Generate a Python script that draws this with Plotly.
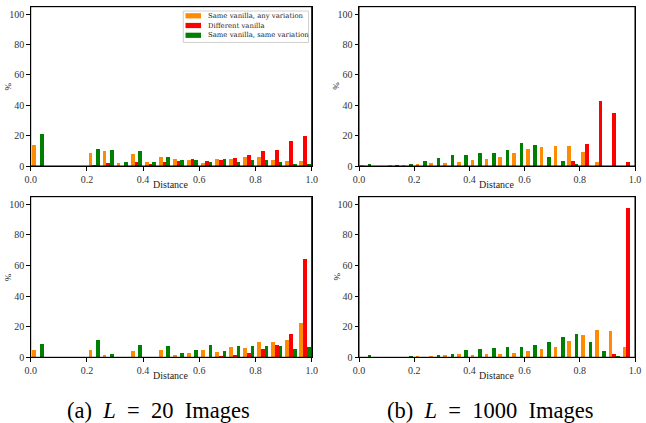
import plotly.graph_objects as go

bin_edges = [round(i * 0.05, 2) for i in range(21)]
series_names = ["Same vanilla, any variation", "Different vanilla", "Same vanilla, same variation"]
series_colors = ["darkorange", "red", "green"]
x_ticks = [0, 0.2, 0.4, 0.6, 0.8, 1.0]
x_tick_labels = ["0.0", "0.2", "0.4", "0.6", "0.8", "1.0"]
y_ticks = [0, 20, 40, 60, 80, 100]
captions = ["(a)&nbsp;&nbsp;<i>L</i>&nbsp;&nbsp;=&nbsp;&nbsp;20&nbsp; Images",
            "(b)&nbsp;&nbsp;<i>L</i>&nbsp;&nbsp;=&nbsp;&nbsp;1000&nbsp; Images"]

# (a) L = 20, top
a_top_orange = [14, 0, 0, 0, 9, 10, 2.2, 8, 2.9, 6.2, 4.8, 4.2, 2.2, 4.8, 4.8, 6.2, 6.2, 4.2, 3.5, 3.5]
a_top_red    = [0, 0.2, 0.2, 0.2, 1, 2.3, 0, 2.9, 1.5, 2.9, 3.5, 4.8, 3.5, 4.2, 5.5, 7.5, 10.1, 10.8, 16.8, 20]
a_top_green  = [21.5, 0, 0, 0, 11.5, 10.8, 2.9, 10, 2.9, 6.2, 4.2, 4.2, 2.9, 4.8, 2.9, 4.2, 4.2, 2.9, 1.5, 1.5]
# (b) L = 1000, top
b_top_orange = [0.8, 0, 0.8, 0.8, 1.5, 2.2, 2.2, 2.9, 4.2, 4.8, 6.2, 8.8, 11.4, 12.8, 13.4, 13.4, 9.5, 2.9, 0, 0]
b_top_red    = [0, 0.2, 0, 0, 0, 0, 0, 0, 0, 0, 0, 0, 0, 0, 0, 3.5, 14.8, 43, 35, 2.9]
b_top_green  = [1.5, 0, 0.8, 1.5, 3.5, 5.5, 7.5, 7.5, 8.8, 8.8, 10.8, 15.4, 14, 6.2, 3.5, 1.5, 0, 0, 0, 0]
# (a) L = 20, bottom
a_bot_orange = [4.8, 0, 0, 0, 4.8, 1.5, 0, 4.2, 0, 4.8, 1.5, 2.9, 4.8, 3.5, 6.8, 6.2, 10.1, 10.1, 11.4, 22.5]
a_bot_red    = [0, 0, 0, 0, 0, 0, 0, 0, 0, 0, 0, 0, 0, 0.8, 1.5, 2.9, 5.5, 8.1, 15.4, 64.7]
a_bot_green  = [8.8, 0, 0, 0, 11.4, 2.2, 0, 8.1, 0, 7.5, 2.9, 4.8, 8.1, 4.2, 7.5, 7.5, 7.5, 7.5, 5.5, 6.8]
# (b) L = 1000, bottom
b_bot_orange = [0, 0, 0, 0, 0.8, 0.8, 1.5, 2.2, 1.5, 2.2, 2.2, 2.9, 4.2, 5.5, 6.8, 10.8, 14.8, 18, 17.4, 6.8]
b_bot_red    = [0, 0, 0, 0, 0, 0, 0, 0, 0, 0, 0, 0, 0, 0, 0, 0, 0, 0, 2.2, 97.5]
b_bot_green  = [1.5, 0, 0, 0.8, 0, 1.5, 2.2, 4.8, 5.5, 6.2, 6.8, 6.8, 8.1, 10.1, 13.4, 15.4, 10.1, 4.2, 0.8, 0]

panels = [
    (0, 0, [a_top_orange, a_top_red, a_top_green]),
    (0, 1, [b_top_orange, b_top_red, b_top_green]),
    (1, 0, [a_bot_orange, a_bot_red, a_bot_green]),
    (1, 1, [b_bot_orange, b_bot_red, b_bot_green]),
]

W, H = 646, 423
fig = go.Figure()

# axes boxes in pixels
x_doms = [(30.7, 311.7), (359.0, 635.0)]
y_doms = [(6.7, 166.0), (196.7, 357.3)]

def px(xp):
    return xp / W

def py(yp):
    return 1 - yp / H

binw = bin_edges[1] - bin_edges[0]
dr = 0.8
bw = dr * binw / 3
boff = 0.5 * (1 - dr) * binw

font_family = "Liberation Serif, DejaVu Serif, serif"
legend_family = "DejaVu Serif, Liberation Serif, serif"
tick_font = dict(family=font_family, size=10, color="#333")
label_font = dict(family=font_family, size=10, color="#222")

for idx, (r, c, data) in enumerate(panels, start=1):
    xa = "x" if idx == 1 else f"x{idx}"
    ya = "y" if idx == 1 else f"y{idx}"
    for k, vals in enumerate(data):
        xs = [bin_edges[i] + boff + bw * k + bw / 2 for i in range(len(vals))]
        fig.add_trace(go.Bar(
            x=xs, y=vals, width=bw, marker=dict(color=series_colors[k], line=dict(width=0)),
            name=series_names[k], showlegend=False, xaxis=xa, yaxis=ya,
        ))
    axis_common = dict(
        showgrid=False, zeroline=False, showline=True, linecolor="black", linewidth=1,
        mirror=True, ticks="outside", ticklen=3.5, tickwidth=0.8, tickcolor="black",
        tickfont=tick_font, automargin=False, ticklabeloverflow="allow",
    )
    xkey = "xaxis" if idx == 1 else f"xaxis{idx}"
    ykey = "yaxis" if idx == 1 else f"yaxis{idx}"
    xd, yd = x_doms[c], y_doms[r]
    fig.update_layout({
        xkey: dict(axis_common, domain=[px(xd[0]), px(xd[1])], range=[0, 1], anchor=ya,
                   tickvals=x_ticks, ticktext=x_tick_labels),
        ykey: dict(axis_common, domain=[py(yd[1]), py(yd[0])], range=[0, 105], anchor=xa,
                   tickvals=y_ticks),
    })
    # explicit frame so every spine is drawn
    fig.add_shape(type="rect", xref=f"{xa} domain", yref=f"{ya} domain", x0=0, x1=1, y0=0, y1=1,
                  line=dict(color="black", width=1), fillcolor="rgba(0,0,0,0)", layer="above")
    # axis titles
    fig.add_annotation(text="Distance", x=px((xd[0] + xd[1]) / 2), y=py(yd[1] + 18.3),
                       xref="paper", yref="paper", showarrow=False, xanchor="center", yanchor="middle",
                       font=label_font)
    fig.add_annotation(text="%", x=px(xd[0] - 22.5), y=py((yd[0] + yd[1]) / 2),
                       xref="paper", yref="paper", showarrow=False, xanchor="center", yanchor="middle",
                       textangle=-90, font=dict(family=font_family, size=9, color="#222"))

# captions
for c, cap in enumerate(captions):
    fig.add_annotation(text=cap, x=px([65.0, 385.0][c]), y=py(410.5), xref="paper", yref="paper",
                       showarrow=False, xanchor="left", yanchor="middle",
                       font=dict(family=font_family, size=22.5, color="black"))

# manual compact legend in first panel
leg_x0, leg_x1, leg_y0, leg_y1 = 183.3, 308.5, 11.0, 42.5
fig.add_shape(type="rect", xref="paper", yref="paper",
              x0=px(leg_x0), x1=px(leg_x1), y0=py(leg_y1), y1=py(leg_y0),
              line=dict(color="#d0d0d0", width=1), fillcolor="rgba(255,255,255,0.85)")
row_y = [15.8, 25.5, 35.3]
for k, name in enumerate(series_names):
    fig.add_shape(type="rect", xref="paper", yref="paper",
                  x0=px(185.5), x1=px(201), y0=py(row_y[k] + 2.6), y1=py(row_y[k] - 2.6),
                  line=dict(width=0), fillcolor=series_colors[k])
    fig.add_annotation(text=name, x=px(206.0), y=py(row_y[k]), xref="paper", yref="paper",
                       showarrow=False, xanchor="left", yanchor="middle",
                       font=dict(family=legend_family, size=6.9, color="#222"))

fig.update_layout(
    width=W, height=H, margin=dict(l=0, r=0, t=0, b=0),
    paper_bgcolor="white", plot_bgcolor="white", barmode="overlay", bargap=0,
    showlegend=False,
)

fig.write_html("out.html", config={"displayModeBar": False},
               post_script="document.documentElement.style.margin='0px';"
                           "document.documentElement.style.overflow='hidden';"
                           "document.body.style.margin='0px';document.body.style.padding='0px';"
                           "document.body.style.overflow='hidden';")
